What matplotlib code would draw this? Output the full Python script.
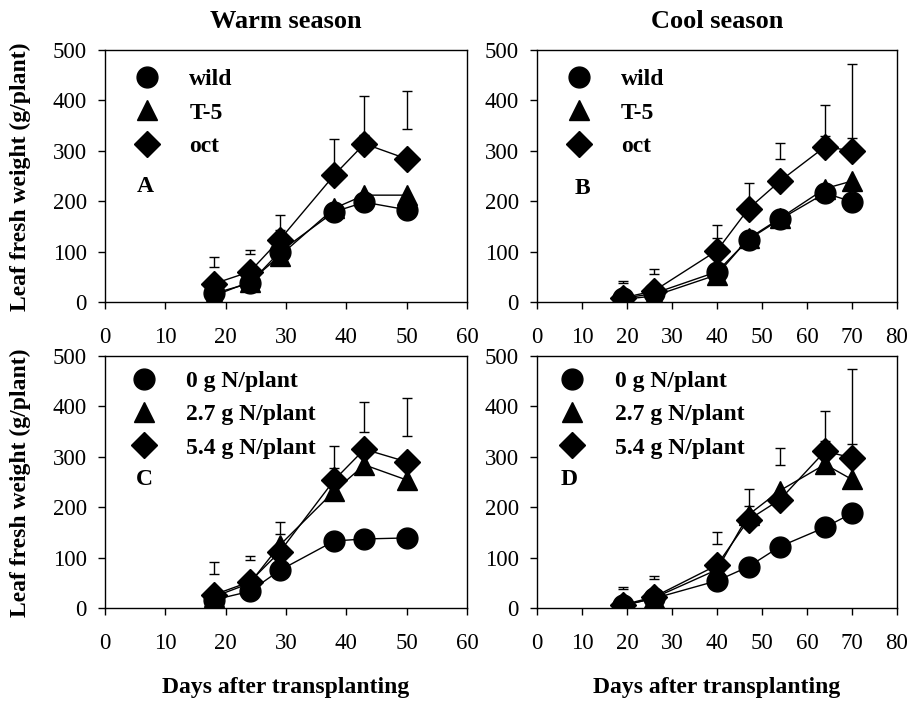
import numpy as np
import matplotlib
matplotlib.use("Agg")
import matplotlib.pyplot as plt

plt.rcParams['font.family'] = ['Liberation Serif', 'DejaVu Serif']
plt.rcParams['font.size'] = 16

# warm season (panels A, C)
days_warm = [18, 24, 29, 38, 43, 50]
# cool season (panels B, D)
days_cool = [19, 26, 40, 47, 54, 64, 70]

# A: cultivars, warm season
a_wild = [17, 37, 100, 179, 198, 183]
a_t5 = [12, 40, 92, 186, 212, 212]
a_oct = [36, 60, 124, 252, 314, 284]
a_bar_lo = [69, 95, 143, 258, 331, 343]
a_bar_hi = [89, 104, 172, 323, 409, 418]

# B: cultivars, cool season
b_wild = [7, 17, 60, 124, 164, 216, 199]
b_t5 = [5, 12, 54, 126, 166, 225, 240]
b_oct = [8, 22, 102, 185, 240, 308, 300]
b_bar_lo = [37, 56, 126, 193, 283, 330, 326]
b_bar_hi = [42, 65, 153, 237, 316, 390, 473]

# C: nitrogen, warm season
c_n0 = [16, 33, 75, 133, 137, 139]
c_n27 = [22, 49, 125, 232, 284, 254]
c_n54 = [26, 52, 112, 254, 315, 290]
c_bar_lo = [67, 95, 147, 277, 350, 341]
c_bar_hi = [92, 104, 171, 322, 409, 417]

# D: nitrogen, cool season
d_n0 = [5, 19, 54, 82, 122, 160, 188]
d_n27 = [4, 20, 76, 185, 233, 285, 255]
d_n54 = [6, 22, 85, 175, 215, 311, 298]
d_bar_lo = [37, 57, 127, 203, 284, 331, 326]
d_bar_hi = [42, 63, 151, 236, 317, 391, 475]

cultivars = ["wild", "T-5", "oct"]
nitrogen = ["0 g N/plant", "2.7 g N/plant", "5.4 g N/plant"]
markers = ["o", "^", "D"]
msizes = [15, 15, 13]

fig = plt.figure(figsize=(9.08, 7.01), dpi=100)
W, H = 908.0, 701.0


def make_ax(l, r, t, b):
    return fig.add_axes([l / W, 1 - b / H, (r - l) / W, (b - t) / H])


axA = make_ax(105, 467, 50, 302)
axB = make_ax(537, 897, 50, 302)
axC = make_ax(105, 467, 356, 608)
axD = make_ax(537, 897, 356, 608)

panels = [
    (axA, days_warm, [a_wild, a_t5, a_oct], a_bar_lo, a_bar_hi, cultivars, "A", 60, (0.088, 0.46), (0.083, 0.925)),
    (axB, days_cool, [b_wild, b_t5, b_oct], b_bar_lo, b_bar_hi, cultivars, "B", 80, (0.105, 0.45), (0.083, 0.925)),
    (axC, days_warm, [c_n0, c_n27, c_n54], c_bar_lo, c_bar_hi, nitrogen, "C", 60, (0.085, 0.51), (0.075, 0.943)),
    (axD, days_cool, [d_n0, d_n27, d_n54], d_bar_lo, d_bar_hi, nitrogen, "D", 80, (0.065, 0.51), (0.065, 0.943)),
]

for ax, x, series, lo, hi, labels, letter, xmax, lpos, legpos in panels:
    for ys, mk, ms, lab in zip(series, markers, msizes, labels):
        ax.plot(x, ys, color="black", linewidth=1, zorder=2)
        ax.plot(x, ys, linestyle="none", marker=mk, markersize=ms,
                color="black", label=lab, zorder=3)
    lo = np.array(lo)
    hi = np.array(hi)
    ax.errorbar(x, (lo + hi) / 2, yerr=(hi - lo) / 2, fmt="none",
                ecolor="black", elinewidth=1, capsize=3.5, capthick=1)
    ax.set_xlim(0, xmax)
    ax.set_ylim(0, 500)
    ax.set_xticks(np.arange(0, xmax + 1, 10))
    ax.set_yticks(np.arange(0, 501, 100))
    ax.tick_params(direction="out", length=5, width=1, labelsize=16.5)
    ax.tick_params(axis="x", pad=13)
    ax.tick_params(axis="y", pad=8)
    for sp in ax.spines.values():
        sp.set_linewidth(1)
    ax.legend(loc="upper left", bbox_to_anchor=legpos, frameon=False,
              handlelength=1.0, handletextpad=1.3, labelspacing=0.5,
              numpoints=1, borderaxespad=0, borderpad=0,
              prop={"weight": "bold", "size": 17})
    ax.text(lpos[0], lpos[1], letter, transform=ax.transAxes,
            fontsize=17, fontweight="bold", va="center", ha="left")

fig.text(286 / W, 1 - 22 / H, "Warm season", ha="center", va="center",
         fontsize=19, fontweight="bold")
fig.text(717 / W, 1 - 22 / H, "Cool season", ha="center", va="center",
         fontsize=19, fontweight="bold")

for yc in [177, 483]:
    fig.text(20 / W, 1 - yc / H, "Leaf fresh weight (g/plant)", rotation=90,
             ha="center", va="center", fontsize=17, fontweight="bold")

for xc in [286, 717]:
    fig.text(xc / W, 1 - 688 / H, "Days after transplanting", ha="center",
             va="center", fontsize=17, fontweight="bold")

fig.savefig("out.png", dpi=100)
